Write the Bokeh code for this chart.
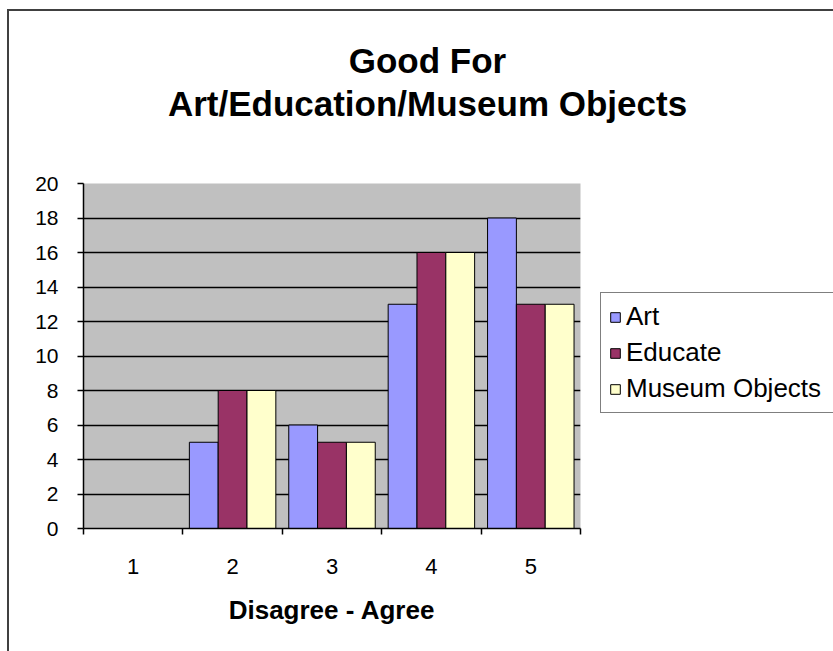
from bokeh.plotting import figure
from bokeh.layouts import column, row
from bokeh.models import (ColumnDataSource, Range1d, FixedTicker, Legend,
                          LegendItem, Label)
from bokeh.transform import dodge
from bokeh.embed import file_html
from bokeh.resources import INLINE

# ---- data ----
categories = ["1", "2", "3", "4", "5"]
art = [0, 5, 6, 13, 18]
educate = [0, 8, 5, 16, 13]
museum = [0, 8, 5, 16, 13]
series_names = ["Art", "Educate", "Museum Objects"]
series_cols = ["art", "educate", "museum"]
series_colors = ["#9999FF", "#993366", "#FFFFCC"]
y_ticks = [0, 2, 4, 6, 8, 10, 12, 14, 16, 18, 20]
title_lines = ["Good For", "Art/Education/Museum Objects"]
x_title = "Disagree - Agree"

x_pos = list(range(1, len(categories) + 1))
source = ColumnDataSource(dict(x=x_pos, art=art, educate=educate, museum=museum))

FONT = "Liberation Sans"

# ---------------- title strip ----------------
TW, TH = 824, 152
tf = figure(width=TW, height=TH, output_backend="svg", toolbar_location=None,
            x_range=Range1d(0, TW), y_range=Range1d(0, TH),
            x_axis_location=None, y_axis_location=None, min_border=0)
tf.outline_line_color = None
tf.xgrid.visible = False
tf.ygrid.visible = False
for ty, line in zip([103, 60], title_lines):
    tf.add_layout(Label(x=418, y=ty, text=line, text_align="center",
                        text_baseline="middle", text_font=FONT,
                        text_font_size="35px", text_font_style="bold",
                        text_color="black"))

# ---------------- main chart ----------------
p = figure(width=590, height=488, output_backend="svg", toolbar_location=None,
           x_range=Range1d(0.5, len(categories) + 0.5),
           y_range=Range1d(y_ticks[0], y_ticks[-1]),
           min_border_left=74, min_border_top=20, min_border_right=19,
           min_border_bottom=123)
p.background_fill_color = "#C0C0C0"
p.border_fill_color = "white"
p.outline_line_color = None

bw = 0.29
for i, (col, color) in enumerate(zip(series_cols, series_colors)):
    p.vbar(x=dodge("x", (i - 1) * bw, range=p.x_range), top=col, width=bw,
           bottom=0, source=source, fill_color=color, line_color="black",
           line_width=1)

p.xgrid.visible = False
p.ygrid.ticker = FixedTicker(ticks=y_ticks[1:-1])
p.ygrid.grid_line_color = "black"
p.ygrid.grid_line_width = 1.3

p.yaxis.ticker = FixedTicker(ticks=y_ticks)
p.yaxis.axis_line_color = "black"
p.yaxis.axis_line_width = 1.5
p.yaxis.major_tick_out = 6
p.yaxis.major_tick_in = 0
p.yaxis.minor_tick_line_color = None
p.yaxis.major_tick_line_width = 1.5
p.yaxis.major_label_text_font = FONT
p.yaxis.major_label_text_font_size = "21px"
p.yaxis.major_label_text_color = "black"
p.yaxis.major_label_standoff = 19

p.xaxis.ticker = FixedTicker(ticks=x_pos,
                             minor_ticks=[x - 0.5 for x in x_pos] + [x_pos[-1] + 0.5])
p.xaxis.major_label_overrides = {x: c for x, c in zip(x_pos, categories)}
p.xaxis.axis_line_color = "black"
p.xaxis.axis_line_width = 1.5
p.xaxis.major_tick_out = 0
p.xaxis.major_tick_in = 0
p.xaxis.minor_tick_out = 6
p.xaxis.minor_tick_in = 0
p.xaxis.minor_tick_line_width = 1.5
p.xaxis.minor_tick_line_color = "black"
p.xaxis.major_label_text_font = FONT
p.xaxis.major_label_text_font_size = "22px"
p.xaxis.major_label_text_color = "black"
p.xaxis.major_label_standoff = 24
p.xaxis.axis_label = x_title
p.xaxis.axis_label_text_font = FONT
p.xaxis.axis_label_text_font_size = "26px"
p.xaxis.axis_label_text_font_style = "bold"
p.xaxis.axis_label_text_color = "black"
p.xaxis.axis_label_standoff = 18

# ---------------- legend panel ----------------
# swatch renderers share the data but are hidden; only their legend entries show
LW, LH = 824 - 590, 488
lf = figure(width=LW, height=LH, output_backend="svg", toolbar_location=None,
            x_range=Range1d(100, 101), y_range=Range1d(100, 101),
            x_axis_location=None, y_axis_location=None, min_border=0)
lf.outline_line_color = None
lf.xgrid.visible = False
lf.ygrid.visible = False
swatches = [lf.vbar(x="x", top=col, width=bw, source=source, fill_color=c,
                    line_color="black", line_width=1, visible=False)
            for col, c in zip(series_cols, series_colors)]
legend = Legend(items=[LegendItem(label=n, renderers=[r])
                       for n, r in zip(series_names, swatches)],
                location=(1, 115))
legend.border_line_color = "black"
legend.border_line_width = 1.5
legend.background_fill_color = "white"
legend.background_fill_alpha = 1
legend.inactive_fill_alpha = 0
legend.label_text_font = FONT
legend.label_text_font_size = "26px"
legend.label_text_color = "black"
legend.label_width = 225
legend.glyph_width = 12
legend.glyph_height = 12
legend.label_standoff = 5
legend.spacing = 5
legend.padding = 8
legend.margin = 0
lf.add_layout(legend)

layout = column(tf, row(p, lf, spacing=0), spacing=0,
                styles={"margin-left": "7px", "margin-top": "9px",
                        "border-left": "2px solid #404040",
                        "border-top": "2px solid #404040"})

with open("out.html", "w") as f:
    f.write(file_html(layout, INLINE))
